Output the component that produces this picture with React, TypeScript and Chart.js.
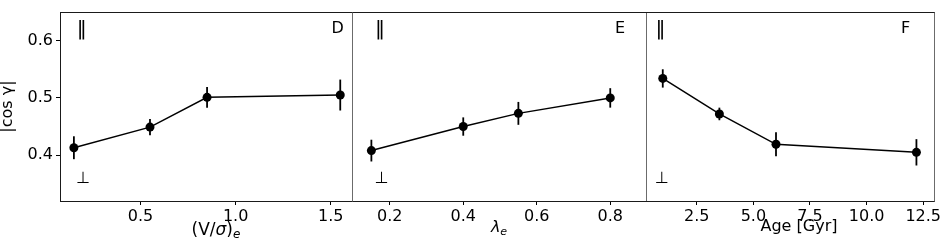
import React, { useEffect, useRef } from "react";
import { Chart, registerables } from "chart.js";

Chart.register(...registerables);

const FAMILY = "'DejaVu Sans', 'Liberation Sans', sans-serif";

// ---- shared y axis ----
const yMin = 0.32;
const yMax = 0.65;
const yTicks = [0.4, 0.5, 0.6];
const yTickLabels = ["0.4", "0.5", "0.6"];
const yTitle = "|cos γ|";

// ---- panel D: (V/σ)e ----
const vsX = [0.15, 0.55, 0.85, 1.55];
const vsY = [0.413, 0.449, 0.501, 0.505];
const vsErr = [0.02, 0.014, 0.018, 0.027];
const vsTicks = [0.5, 1.0, 1.5];
const vsTickLabels = ["0.5", "1.0", "1.5"];
const vsRange = [0.077, 1.617];

// ---- panel E: λe ----
const lamX = [0.15, 0.4, 0.55, 0.8];
const lamY = [0.408, 0.45, 0.473, 0.5];
const lamErr = [0.019, 0.016, 0.02, 0.017];
const lamTicks = [0.2, 0.4, 0.6, 0.8];
const lamTickLabels = ["0.2", "0.4", "0.6", "0.8"];
const lamRange = [0.1, 0.9];

// ---- panel F: Age ----
const ageX = [1.0, 3.5, 6.0, 12.2];
const ageY = [0.534, 0.472, 0.419, 0.405];
const ageErr = [0.016, 0.011, 0.021, 0.023];
const ageTicks = [2.5, 5.0, 7.5, 10.0, 12.5];
const ageTickLabels = ["2.5", "5.0", "7.5", "10.0", "12.5"];
const ageRange = [0.26, 13.02];

const panelLetters = ["D", "E", "F"];
const parallelMark = "‖";
const perpMark = "⊥";

type Seg = { t: string; italic?: boolean; sub?: boolean };

type PanelCfg = {
  left: number;
  width: number;
  padRight: number;
  showY: boolean;
  xs: number[];
  ys: number[];
  errs: number[];
  range: number[];
  ticks: number[];
  tickLabels: string[];
  letter: string;
  parX: number;
  perpX: number;
  letterFromRight: number;
  title: Seg[];
  titleSize: number;
  titleCenter: number;
  titleBaseline: number;
  sides: { left?: string; right?: string; top?: string; bottom?: string };
};

const DARK = "#1a1a1a";
const GRAY = "#6b6b6b";

const panels: PanelCfg[] = [
  {
    left: 0,
    width: 354,
    padRight: 1,
    showY: true,
    xs: vsX,
    ys: vsY,
    errs: vsErr,
    range: vsRange,
    ticks: vsTicks,
    tickLabels: vsTickLabels,
    letter: panelLetters[0],
    parX: 21.7,
    perpX: 23.3,
    letterFromRight: 15.3,
    title: [{ t: "(V/" }, { t: "σ", italic: true }, { t: ")" }, { t: "e", italic: true, sub: true }],
    titleSize: 17,
    titleCenter: 216,
    titleBaseline: 235,
    sides: { left: DARK, top: DARK, bottom: DARK, right: GRAY },
  },
  {
    left: 353,
    width: 295,
    padRight: 1,
    showY: false,
    xs: lamX,
    ys: lamY,
    errs: lamErr,
    range: lamRange,
    ticks: lamTicks,
    tickLabels: lamTickLabels,
    letter: panelLetters[1],
    parX: 27,
    perpX: 28.7,
    letterFromRight: 27,
    title: [{ t: "λ", italic: true }, { t: "e", italic: true, sub: true }],
    titleSize: 16,
    titleCenter: 499 - 353,
    titleBaseline: 232,
    sides: { top: DARK, bottom: DARK, right: GRAY },
  },
  {
    left: 646,
    width: 294,
    padRight: 5,
    showY: false,
    xs: ageX,
    ys: ageY,
    errs: ageErr,
    range: ageRange,
    ticks: ageTicks,
    tickLabels: ageTickLabels,
    letter: panelLetters[2],
    parX: 14.5,
    perpX: 16,
    letterFromRight: 29.3,
    title: [{ t: "Age [Gyr]" }],
    titleSize: 16,
    titleCenter: 799 - 646,
    titleBaseline: 231,
    sides: { top: DARK, bottom: DARK, right: GRAY },
  },
];

const FS = 16;

function buildChart(canvas: HTMLCanvasElement, p: PanelCfg) {
  const framePlugin = {
    id: "frame",
    afterDatasetsDraw(chart: any) {
      const { left, right, top, bottom } = chart.chartArea;
      const ctx = chart.ctx;
      ctx.save();
      ctx.lineWidth = 1;
      const L = Math.round(left) + 0.5;
      const R = Math.round(right) - 0.5;
      const T = Math.round(top) + 0.5;
      const B = Math.round(bottom) + 0.5;
      const line = (c: string | undefined, x1: number, y1: number, x2: number, y2: number) => {
        if (!c) return;
        ctx.strokeStyle = c;
        ctx.beginPath();
        ctx.moveTo(x1, y1);
        ctx.lineTo(x2, y2);
        ctx.stroke();
      };
      line(p.sides.top, L - 0.5, T, R + 0.5, T);
      line(p.sides.bottom, L - 0.5, B, R + 0.5, B);
      line(p.sides.left, L, T, L, B);
      line(p.sides.right, R, T, R, B);
      ctx.restore();
    },
  };

  const errPlugin = {
    id: "errbars",
    beforeDatasetsDraw(chart: any) {
      const xs = chart.scales.x;
      const ys = chart.scales.y;
      const ctx = chart.ctx;
      ctx.save();
      ctx.strokeStyle = "#000";
      ctx.lineWidth = 1.8;
      p.xs.forEach((xv, i) => {
        const px = xs.getPixelForValue(xv);
        ctx.beginPath();
        ctx.moveTo(px, ys.getPixelForValue(p.ys[i] - p.errs[i]));
        ctx.lineTo(px, ys.getPixelForValue(p.ys[i] + p.errs[i]));
        ctx.stroke();
      });
      ctx.restore();
    },
  };

  const textPlugin = {
    id: "texts",
    afterDraw(chart: any) {
      const { left, right } = chart.chartArea;
      const ctx = chart.ctx;
      ctx.save();
      ctx.fillStyle = "#000";
      ctx.textAlign = "center";
      ctx.textBaseline = "middle";
      ctx.font = `20px ${FAMILY}`;
      ctx.fillText(parallelMark, left + p.parX, 30);
      ctx.font = `${FS}px ${FAMILY}`;
      ctx.fillText(perpMark, left + p.perpX, 179);
      ctx.fillText(p.letter, right - p.letterFromRight, 28.5);
      // axis title with mixed styles
      ctx.textAlign = "left";
      ctx.textBaseline = "alphabetic";
      const fs = p.titleSize;
      const fontFor = (s: Seg) =>
        `${s.italic ? "italic " : ""}${s.sub ? Math.round(fs * 0.7) : fs}px ${FAMILY}`;
      let total = 0;
      const widths = p.title.map((s) => {
        ctx.font = fontFor(s);
        const w = ctx.measureText(s.t).width;
        total += w;
        return w;
      });
      let x = p.titleCenter - total / 2;
      p.title.forEach((s, i) => {
        ctx.font = fontFor(s);
        ctx.fillText(s.t, x, p.titleBaseline + (s.sub ? 3 : 0));
        x += widths[i];
      });
      ctx.restore();
    },
  };

  return new Chart(canvas, {
    type: "line",
    data: {
      datasets: [
        {
          data: p.xs.map((x, i) => ({ x, y: p.ys[i] })),
          borderColor: "#000",
          borderWidth: 1.5,
          pointRadius: 4.5,
          pointBackgroundColor: "#000",
          pointBorderWidth: 0,
          pointBorderColor: "#000",
          tension: 0,
          fill: false,
          clip: false,
        },
      ],
    },
    options: {
      animation: false,
      responsive: false,
      devicePixelRatio: 1,
      layout: { autoPadding: false, padding: { top: 12, right: p.padRight, left: 0, bottom: 0 } },
      plugins: { legend: { display: false }, tooltip: { enabled: false } },
      scales: {
        x: {
          type: "linear",
          min: p.range[0],
          max: p.range[1],
          afterBuildTicks: (s: any) => {
            s.ticks = p.ticks.map((v) => ({ value: v }));
          },
          afterFit: (s: any) => {
            s.height = 43;
            s.paddingLeft = 0;
            s.paddingRight = 0;
          },
          ticks: {
            callback: (_v: any, i: number) => p.tickLabels[i],
            font: { family: FAMILY, size: FS },
            color: "#000",
            padding: 2,
            maxRotation: 0,
            autoSkip: false,
          },
          grid: {
            display: true,
            drawOnChartArea: false,
            drawTicks: true,
            tickLength: 4,
            color: "#000",
          },
          border: { display: false },
        },
        y: {
          type: "linear",
          display: p.showY,
          position: "left",
          min: yMin,
          max: yMax,
          afterBuildTicks: (s: any) => {
            s.ticks = yTicks.map((v) => ({ value: v }));
          },
          afterFit: (s: any) => {
            if (p.showY) s.width = 60;
            else s.width = 0;
            s.paddingTop = 0;
            s.paddingBottom = 0;
          },
          ticks: {
            callback: (_v: any, i: number) => yTickLabels[i],
            font: { family: FAMILY, size: FS },
            color: "#000",
            padding: 3,
            autoSkip: false,
          },
          grid: {
            display: true,
            drawOnChartArea: false,
            drawTicks: true,
            tickLength: 4,
            color: "#000",
          },
          border: { display: false },
          title: {
            display: true,
            text: yTitle,
            color: "#000",
            font: { family: FAMILY, size: FS, lineHeight: 1 },
            padding: 0,
          },
        },
      },
    } as any,
    plugins: [framePlugin, errPlugin, textPlugin],
  });
}

function PanelCanvas({ cfg }: { cfg: PanelCfg }) {
  const ref = useRef<HTMLCanvasElement | null>(null);
  useEffect(() => {
    if (!ref.current) return;
    const chart = buildChart(ref.current, cfg);
    return () => chart.destroy();
  }, [cfg]);
  return (
    <canvas
      ref={ref}
      width={cfg.width}
      height={244}
      style={{ position: "absolute", left: cfg.left, top: 0, width: cfg.width, height: 244 }}
    />
  );
}

export default function App() {
  return (
    <div
      style={{
        position: "fixed",
        left: 0,
        top: 0,
        width: 940,
        height: 244,
        background: "#fff",
        overflow: "hidden",
      }}
    >
      {panels.map((p, i) => (
        <PanelCanvas key={i} cfg={p} />
      ))}
    </div>
  );
}
